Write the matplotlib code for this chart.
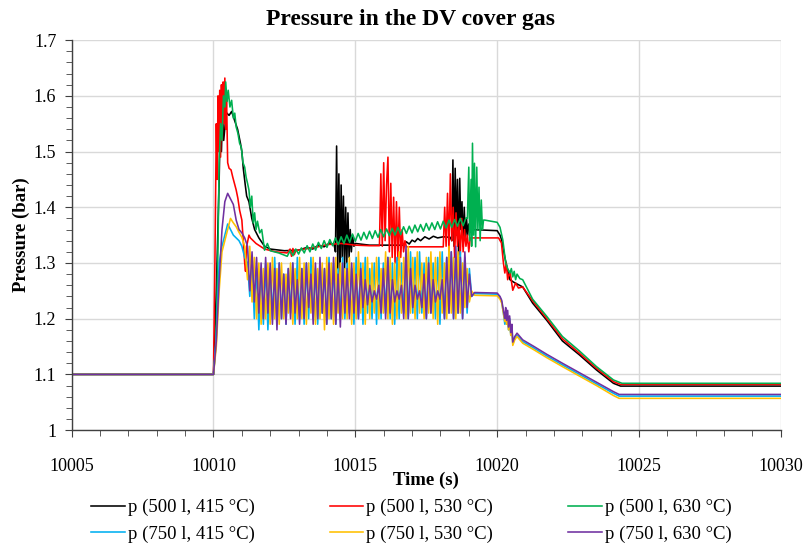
import numpy as np
import matplotlib
matplotlib.use('Agg')
import matplotlib.pyplot as plt
from matplotlib.ticker import MultipleLocator, FuncFormatter

plt.rcParams['font.family'] = ['Liberation Serif', 'DejaVu Serif']

# ---- 500 l, 415 °C (black) ----
t_black = [10005, 10010.0, 10010.1, 10010.2, 10010.25, 10010.28, 10010.32, 10010.36, 10010.45, 10010.55,
           10010.64, 10010.75, 10010.85, 10010.95, 10011.0, 10011.05, 10011.12, 10011.17, 10011.25, 10011.35,
           10011.45, 10011.6, 10011.8, 10012.0, 10012.5, 10013.0, 10013.3, 10013.5, 10013.7, 10013.9,
           10014.1, 10014.25,
           10014.3, 10014.34, 10014.38, 10014.42, 10014.46, 10014.5, 10014.54, 10014.58, 10014.62, 10014.66,
           10014.7, 10014.74, 10014.78, 10014.82, 10014.86, 10014.9, 10014.95,
           10015.0, 10015.5, 10016.0, 10016.7, 10016.8, 10016.9, 10017.0, 10017.1, 10017.2, 10017.3,
           10017.45, 10017.6, 10017.75, 10017.9, 10018.1, 10018.35,
           10018.4, 10018.44, 10018.48, 10018.52, 10018.56, 10018.6, 10018.64, 10018.68, 10018.72, 10018.76,
           10018.8, 10018.84, 10018.88, 10018.92, 10018.96, 10019.0, 10019.05,
           10019.1, 10020.0, 10020.1, 10020.16, 10020.27, 10020.37, 10020.45, 10020.6, 10020.9, 10021.25,
           10021.75, 10022.3, 10022.9, 10023.5, 10024.1, 10024.35, 10030]
p_black = [1.10, 1.10, 1.25, 1.45, 1.58, 1.50, 1.57, 1.52, 1.57, 1.565,
           1.572, 1.555, 1.54, 1.515, 1.50, 1.47, 1.44, 1.42, 1.41, 1.38,
           1.36, 1.345, 1.33, 1.325, 1.322, 1.323, 1.328, 1.325, 1.332, 1.329,
           1.336, 1.333,
           1.32, 1.51, 1.29, 1.46, 1.27, 1.44, 1.31, 1.42, 1.29, 1.40,
           1.30, 1.39, 1.31, 1.36, 1.32, 1.35, 1.33,
           1.335, 1.332, 1.332, 1.332, 1.338, 1.334, 1.341, 1.338, 1.344, 1.34,
           1.347, 1.343, 1.348, 1.345, 1.347, 1.346,
           1.34, 1.485, 1.33, 1.47, 1.35, 1.45, 1.31, 1.452, 1.36, 1.41,
           1.33, 1.40, 1.34, 1.38, 1.35, 1.37, 1.355,
           1.36, 1.358, 1.35, 1.341, 1.31, 1.287, 1.27, 1.265, 1.257, 1.228,
           1.197, 1.16, 1.135, 1.108, 1.084, 1.079, 1.079]

# ---- 500 l, 530 °C (red) ----
t_red = [10005, 10010.0, 10010.05, 10010.1, 10010.13, 10010.16, 10010.19, 10010.22, 10010.25, 10010.28,
         10010.31, 10010.34, 10010.37, 10010.4, 10010.43, 10010.46, 10010.5, 10010.55, 10010.62, 10010.68,
         10010.8, 10010.86, 10010.92, 10011.0, 10011.05, 10011.1, 10011.13, 10011.17, 10011.25, 10011.3,
         10011.5, 10011.8, 10012.2, 10012.6, 10012.7, 10012.75, 10012.8, 10012.85, 10012.9, 10013.2,
         10013.6, 10014.0, 10014.5, 10015.0, 10015.5, 10015.85,
         10015.9, 10015.95, 10016.0, 10016.05, 10016.1, 10016.15, 10016.2, 10016.25, 10016.3, 10016.35,
         10016.4, 10016.45, 10016.5, 10016.55, 10016.6, 10016.65, 10016.7, 10016.75, 10016.8, 10018.1,
         10018.15, 10018.2, 10018.25, 10018.3, 10018.35, 10018.4, 10018.45, 10018.5, 10018.55, 10018.6,
         10018.65, 10018.7, 10018.75, 10018.8, 10018.85, 10018.9, 10018.95, 10019.0, 10019.05,
         10019.1, 10020.05, 10020.15, 10020.22, 10020.27, 10020.32, 10020.37, 10020.45, 10020.55, 10020.65,
         10020.75, 10020.9, 10021.25, 10021.75, 10022.3, 10022.9, 10023.5, 10024.1, 10024.35, 10030]
p_red = [1.10, 1.10, 1.30, 1.55, 1.45, 1.60, 1.50, 1.61, 1.49, 1.62,
         1.52, 1.625, 1.55, 1.632, 1.54, 1.60, 1.48, 1.47, 1.467, 1.454,
         1.431, 1.416, 1.395, 1.377, 1.34, 1.30, 1.285, 1.33, 1.35, 1.345,
         1.335, 1.325, 1.32, 1.318, 1.325, 1.312, 1.326, 1.315, 1.322, 1.325,
         1.328, 1.333, 1.335, 1.332, 1.331, 1.331,
         1.46, 1.33, 1.48, 1.34, 1.44, 1.49, 1.32, 1.443, 1.31, 1.418,
         1.30, 1.41, 1.305, 1.40, 1.31, 1.36, 1.32, 1.34, 1.329, 1.329,
         1.40, 1.33, 1.425, 1.32, 1.46, 1.34, 1.40, 1.31, 1.39, 1.33,
         1.37, 1.315, 1.38, 1.32, 1.36, 1.33, 1.35, 1.32, 1.345,
         1.345, 1.345, 1.336, 1.30, 1.282, 1.30, 1.27, 1.285, 1.251, 1.264,
         1.255, 1.257, 1.232, 1.20, 1.164, 1.138, 1.111, 1.087, 1.082, 1.082]

# ---- 500 l, 630 °C (green) ----
t_green_a = [10005, 10010.0, 10010.08, 10010.15, 10010.2, 10010.25, 10010.3, 10010.35, 10010.4, 10010.43,
             10010.48, 10010.52, 10010.58, 10010.64, 10010.7, 10010.75, 10010.8, 10010.86, 10010.92, 10010.98,
             10011.04, 10011.1, 10011.15, 10011.2, 10011.25, 10011.3, 10011.35, 10011.4, 10011.45, 10011.5,
             10011.55, 10011.63, 10011.7, 10011.8, 10011.9, 10012.0, 10012.3]
p_green_a = [1.10, 1.10, 1.15, 1.30, 1.48, 1.55, 1.52, 1.60, 1.58, 1.625,
             1.59, 1.61, 1.58, 1.592, 1.56, 1.569, 1.544, 1.533, 1.515, 1.508,
             1.48, 1.472, 1.454, 1.443, 1.431, 1.40, 1.42, 1.372, 1.39, 1.36,
             1.375, 1.354, 1.36, 1.323, 1.335, 1.322, 1.318]
t_green_b = np.linspace(10012.6, 10018.9, 64)   # sampling of the noisy plateau
p_green_b = [1.312, 1.322, 1.313, 1.325, 1.316, 1.327, 1.318, 1.331, 1.320, 1.334,
             1.323, 1.337, 1.326, 1.340, 1.328, 1.342, 1.331, 1.345, 1.333, 1.347,
             1.335, 1.350, 1.337, 1.352, 1.339, 1.353, 1.341, 1.355, 1.343, 1.357,
             1.344, 1.358, 1.346, 1.360, 1.347, 1.361, 1.349, 1.362, 1.350, 1.364,
             1.351, 1.365, 1.353, 1.366, 1.354, 1.368, 1.356, 1.369, 1.357, 1.371,
             1.359, 1.372, 1.360, 1.374, 1.361, 1.375, 1.363, 1.377, 1.364, 1.378,
             1.366, 1.380, 1.367, 1.381]
t_green_c = [10018.95, 10019.0, 10019.03, 10019.08, 10019.1, 10019.13, 10019.17, 10019.2, 10019.24, 10019.28,
             10019.32, 10019.36, 10019.4, 10019.44, 10019.48, 10019.52, 10019.56, 10020.0, 10020.1, 10020.2,
             10020.3, 10020.37, 10020.45, 10020.5, 10020.55, 10020.6, 10020.65, 10020.7, 10020.8, 10020.9,
             10021.25, 10021.75, 10022.3, 10022.9, 10023.5, 10024.1, 10024.4, 10030]
p_green_c = [1.38, 1.472, 1.34, 1.45, 1.33, 1.515, 1.35, 1.479, 1.329, 1.472,
             1.36, 1.436, 1.34, 1.413, 1.36, 1.377, 1.377, 1.373, 1.364, 1.341,
             1.30, 1.29, 1.282, 1.29, 1.275, 1.285, 1.27, 1.28, 1.272, 1.27,
             1.235, 1.204, 1.168, 1.142, 1.114, 1.09, 1.084, 1.084]

# ---- 750 l cases: rise, oscillating band, fall ----
t_750_rise = [10005, 10010.0, 10010.1, 10010.2, 10010.3, 10010.4, 10010.5, 10010.6, 10010.7, 10010.8,
              10010.9, 10011.0, 10011.1]
t_osc = np.linspace(10011.2, 10019.1, 100)       # sampling of the oscillating band
t_750_fall = [10019.2, 10020.0, 10020.1, 10020.16, 10020.22, 10020.27, 10020.3, 10020.33, 10020.37, 10020.4,
              10020.44, 10020.48, 10020.52, 10020.55, 10020.62, 10020.7, 10020.9, 10021.3, 10021.75, 10022.3,
              10022.9, 10023.5, 10024.1, 10024.3, 10030]

p_blue_rise = [1.10, 1.10, 1.17, 1.30, 1.33, 1.35, 1.37, 1.36, 1.35, 1.345, 1.34, 1.33, 1.31]
p_blue_osc = [1.30, 1.24, 1.30, 1.20, 1.29, 1.18, 1.29, 1.19, 1.30, 1.18,
              1.29, 1.20, 1.31, 1.19, 1.30, 1.20, 1.28, 1.19, 1.29, 1.21,
              1.30, 1.19, 1.31, 1.20, 1.29, 1.19, 1.30, 1.20, 1.31, 1.20,
              1.29, 1.19, 1.30, 1.21, 1.29, 1.19, 1.31, 1.20, 1.30, 1.19,
              1.29, 1.20, 1.31, 1.20, 1.30, 1.21, 1.29, 1.19, 1.31, 1.20,
              1.30, 1.19, 1.31, 1.21, 1.29, 1.20, 1.30, 1.19, 1.31, 1.20,
              1.30, 1.21, 1.31, 1.20, 1.30, 1.19, 1.31, 1.20, 1.30, 1.21,
              1.31, 1.20, 1.32, 1.21, 1.31, 1.20, 1.32, 1.21, 1.30, 1.20,
              1.31, 1.21, 1.30, 1.20, 1.31, 1.19, 1.32, 1.20, 1.31, 1.21,
              1.32, 1.20, 1.31, 1.21, 1.32, 1.20, 1.31, 1.21, 1.29, 1.24]
p_blue_fall = [1.245, 1.244, 1.238, 1.23, 1.21, 1.19, 1.21, 1.19, 1.205, 1.18,
               1.20, 1.17, 1.185, 1.155, 1.165, 1.17, 1.159, 1.147, 1.133, 1.117,
               1.10, 1.083, 1.066, 1.061, 1.061]

p_yellow_rise = [1.10, 1.10, 1.15, 1.25, 1.32, 1.34, 1.36, 1.38, 1.372, 1.365, 1.355, 1.346, 1.33]
p_yellow_osc = [1.27, 1.33, 1.23, 1.31, 1.20, 1.30, 1.19, 1.29, 1.20, 1.30,
                1.19, 1.31, 1.20, 1.29, 1.19, 1.30, 1.20, 1.28, 1.21, 1.30,
                1.19, 1.29, 1.20, 1.31, 1.20, 1.30, 1.19, 1.30, 1.21, 1.31,
                1.19, 1.29, 1.20, 1.30, 1.18, 1.31, 1.20, 1.30, 1.19, 1.31,
                1.21, 1.30, 1.20, 1.29, 1.20, 1.31, 1.19, 1.30, 1.20, 1.32,
                1.21, 1.30, 1.19, 1.31, 1.20, 1.30, 1.21, 1.31, 1.20, 1.29,
                1.21, 1.32, 1.20, 1.31, 1.19, 1.30, 1.20, 1.32, 1.21, 1.31,
                1.20, 1.33, 1.21, 1.31, 1.20, 1.32, 1.21, 1.30, 1.20, 1.31,
                1.21, 1.32, 1.20, 1.31, 1.19, 1.32, 1.21, 1.30, 1.20, 1.33,
                1.21, 1.31, 1.20, 1.32, 1.21, 1.30, 1.22, 1.29, 1.23, 1.25]
p_yellow_fall = [1.242, 1.241, 1.235, 1.228, 1.21, 1.195, 1.21, 1.19, 1.20, 1.18,
                 1.195, 1.17, 1.18, 1.152, 1.162, 1.168, 1.156, 1.144, 1.13, 1.114,
                 1.097, 1.08, 1.062, 1.057, 1.057]

p_purple_rise = [1.10, 1.10, 1.16, 1.27, 1.36, 1.41, 1.425, 1.415, 1.405, 1.377, 1.36, 1.354, 1.345]
p_purple_osc = [1.33, 1.25, 1.32, 1.23, 1.31, 1.21, 1.30, 1.20, 1.31, 1.21,
                1.30, 1.19, 1.29, 1.18, 1.30, 1.20, 1.28, 1.19, 1.29, 1.20,
                1.30, 1.21, 1.27, 1.19, 1.29, 1.20, 1.30, 1.22, 1.28, 1.19,
                1.30, 1.20, 1.31, 1.21, 1.29, 1.19, 1.30, 1.20, 1.31, 1.19,
                1.28, 1.185, 1.30, 1.21, 1.29, 1.20, 1.30, 1.21, 1.28, 1.20,
                1.29, 1.22, 1.27, 1.225, 1.26, 1.23, 1.25, 1.235, 1.26, 1.21,
                1.29, 1.20, 1.31, 1.21, 1.27, 1.23, 1.25, 1.235, 1.26, 1.20,
                1.33, 1.20, 1.29, 1.22, 1.26, 1.235, 1.25, 1.22, 1.28, 1.20,
                1.30, 1.21, 1.27, 1.23, 1.25, 1.235, 1.27, 1.20, 1.31, 1.21,
                1.32, 1.20, 1.33, 1.21, 1.31, 1.20, 1.32, 1.22, 1.28, 1.24]
p_purple_fall = [1.247, 1.246, 1.24, 1.233, 1.215, 1.20, 1.22, 1.197, 1.215, 1.185,
                 1.205, 1.175, 1.19, 1.158, 1.168, 1.174, 1.162, 1.15, 1.136, 1.12,
                 1.103, 1.086, 1.069, 1.064, 1.064]

labels = ['p (500 l, 415 °C)', 'p (500 l, 530 °C)', 'p (500 l, 630 °C)',
          'p (750 l, 415 °C)', 'p (750 l, 530 °C)', 'p (750 l, 630 °C)']
colors = ['#000000', '#FF0000', '#00B050', '#00B0F0', '#FFC000', '#7030A0']

series = [
    (t_black, p_black),
    (t_red, p_red),
    (list(t_green_a) + list(t_green_b) + list(t_green_c), p_green_a + p_green_b + p_green_c),
    (t_750_rise + list(t_osc) + t_750_fall, p_blue_rise + p_blue_osc + p_blue_fall),
    (t_750_rise + list(t_osc) + t_750_fall, p_yellow_rise + p_yellow_osc + p_yellow_fall),
    (t_750_rise + list(t_osc) + t_750_fall, p_purple_rise + p_purple_osc + p_purple_fall),
]

fig, ax = plt.subplots(figsize=(8.05, 5.5), dpi=100)
fig.subplots_adjust(left=0.089, right=0.970, top=0.927, bottom=0.218)

lines = []
for (t, p), c, lab in zip(series, colors, labels):
    assert len(t) == len(p), lab
    ln, = ax.plot(t, p, color=c, lw=1.15, label=lab)
    lines.append(ln)

ax.set_xlim(10005, 10030)
ax.set_ylim(1.0, 1.7)
ax.xaxis.set_major_locator(MultipleLocator(5))
ax.xaxis.set_minor_locator(MultipleLocator(1))
ax.yaxis.set_major_locator(MultipleLocator(0.1))
ax.yaxis.set_minor_locator(MultipleLocator(0.02))
ax.xaxis.set_major_formatter(FuncFormatter(lambda v, _: '{:g}'.format(round(v, 3))))
ax.yaxis.set_major_formatter(FuncFormatter(lambda v, _: '{:g}'.format(round(v, 3))))

ax.grid(True, which='major', color='#D9D9D9', lw=1.0)
ax.set_axisbelow(True)
for s in ['top', 'right']:
    ax.spines[s].set_visible(False)
for s in ['left', 'bottom']:
    ax.spines[s].set_color('#404040')
    ax.spines[s].set_linewidth(1.0)
ax.tick_params(which='both', direction='out', color='#404040', labelsize=13)
ax.tick_params(which='major', length=5)
ax.tick_params(which='minor', length=4)
ax.tick_params(axis='x', pad=15)
ax.tick_params(axis='y', pad=6)

fig.text(0.51, 0.964, 'Pressure in the DV cover gas', fontsize=17, fontweight='bold',
         ha='center', va='center')
ax.set_xlabel('Time (s)', fontsize=13.5, fontweight='bold', labelpad=-2)
ax.set_ylabel('Pressure (bar)', fontsize=13.5, fontweight='bold', labelpad=3)

# row-major legend order for ncol=3
order = [0, 3, 1, 4, 2, 5]
fig.legend([lines[i] for i in order], [labels[i] for i in order], ncol=3,
           loc='lower center', bbox_to_anchor=(0.511, -0.018), frameon=False,
           fontsize=13.5, handlelength=1.8, handletextpad=0.15, columnspacing=4.0,
           labelspacing=0.5)

fig.savefig('out.png', dpi=100)
